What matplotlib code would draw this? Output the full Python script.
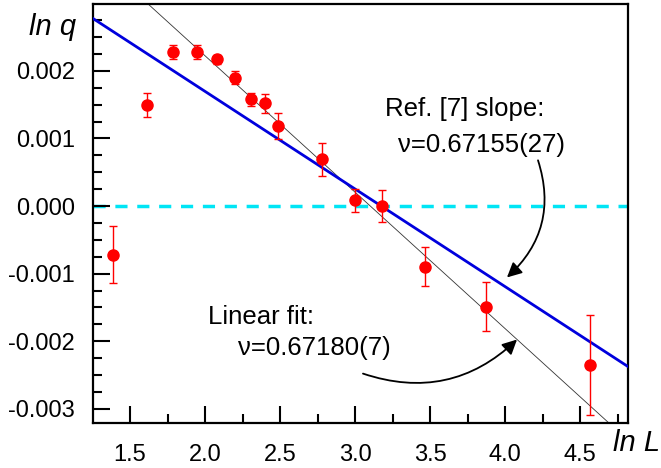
import numpy as np
import matplotlib
matplotlib.use('Agg')
import matplotlib.pyplot as plt
from matplotlib.ticker import MultipleLocator

plt.rcParams['font.family'] = ['Liberation Sans', 'DejaVu Sans']

# data: ln L, ln q and error bars
lnL = [1.387, 1.611, 1.789, 1.944, 2.080, 2.200, 2.305, 2.400, 2.489,
       2.778, 3.000, 3.178, 3.467, 3.871, 4.567]
lnq = [-0.00072, 0.00150, 0.00228, 0.00228, 0.00217, 0.00190, 0.00158, 0.00152,
       0.00118, 0.00069, 0.000085, 0.0, -0.00090, -0.00149, -0.00235]
err = [0.00042, 0.00018, 0.00011, 0.00010, 0.00007, 0.00010, 0.00010, 0.00014,
       0.00019, 0.00024, 0.00017, 0.00024, 0.00029, 0.00036, 0.00074]

# lines: (slope, intercept)
fit_line = (-0.002018, 0.00626)   # thin black: linear fit
ref_line = (-0.001444, 0.004585)  # blue: Ref. [7] slope

xlim = (1.253, 4.82)
ylim = (-0.00321, 0.00299)

fig = plt.figure(figsize=(6.61, 4.68), dpi=100)
ax = fig.add_axes([93/661, 45/468, 535/661, 419/468])

xx = np.array(xlim)
ax.plot(xx, fit_line[0]*xx + fit_line[1], color='#333333', lw=0.6, zorder=2)
ax.plot(xx, ref_line[0]*xx + ref_line[1], color='#0000dd', lw=2.0, zorder=3)
ax.axhline(0, color='#00e5f5', lw=2.5, dashes=(3.5, 2.8), zorder=1)

ax.errorbar(lnL, lnq, yerr=err, fmt='o', color='#ff0000', ms=8,
            elinewidth=1.0, capsize=3.2, capthick=1.0, zorder=4)

ax.set_xlim(xlim)
ax.set_ylim(ylim)
ax.xaxis.set_major_locator(MultipleLocator(0.5))
ax.xaxis.set_minor_locator(MultipleLocator(0.25))
ax.yaxis.set_major_locator(MultipleLocator(0.001))
ax.yaxis.set_minor_locator(MultipleLocator(0.00025))
ax.xaxis.set_major_formatter(plt.FuncFormatter(lambda v, p: '%.1f' % v))
ax.yaxis.set_major_formatter(plt.FuncFormatter(lambda v, p: '%.3f' % v if abs(v) > 1e-9 else '0.000'))

ax.tick_params(which='both', direction='in', top=False, right=False, labelsize=17, width=1.5)
ax.tick_params(axis='y', which='major', length=12, pad=13)
ax.tick_params(axis='x', which='major', length=12, pad=15)
ax.tick_params(which='minor', length=6.5)
for s in ax.spines.values():
    s.set_linewidth(1.6)

fig.text(29/661, 1 - 27/468, 'ln q', fontsize=21, style='italic', ha='left', va='center')
fig.text(613/661, 1 - 443/468, 'ln L', fontsize=21, style='italic', ha='left', va='center')

ax.text(3.2, 0.00133, 'Ref. [7] slope:', fontsize=18.5, ha='left', va='baseline')
ax.text(3.287, 0.000796, 'ν=0.67155(27)', fontsize=18.5, ha='left', va='baseline')
ax.text(2.02, -0.00174, 'Linear fit:', fontsize=18.5, ha='left', va='baseline')
ax.text(2.22, -0.00221, 'ν=0.67180(7)', fontsize=18.5, ha='left', va='baseline')

ax.annotate('', xy=(4.013, -0.001056), xytext=(4.22, 0.000677),
            arrowprops=dict(arrowstyle='-|>', color='black', lw=1.3, mutation_scale=22,
                            connectionstyle='arc3,rad=-0.32', shrinkA=0, shrinkB=0))
ax.annotate('', xy=(4.08, -0.001975), xytext=(3.053, -0.002479),
            arrowprops=dict(arrowstyle='-|>', color='black', lw=1.3, mutation_scale=22,
                            connectionstyle='arc3,rad=0.3', shrinkA=0, shrinkB=0))

fig.savefig('out.png', dpi=100)
